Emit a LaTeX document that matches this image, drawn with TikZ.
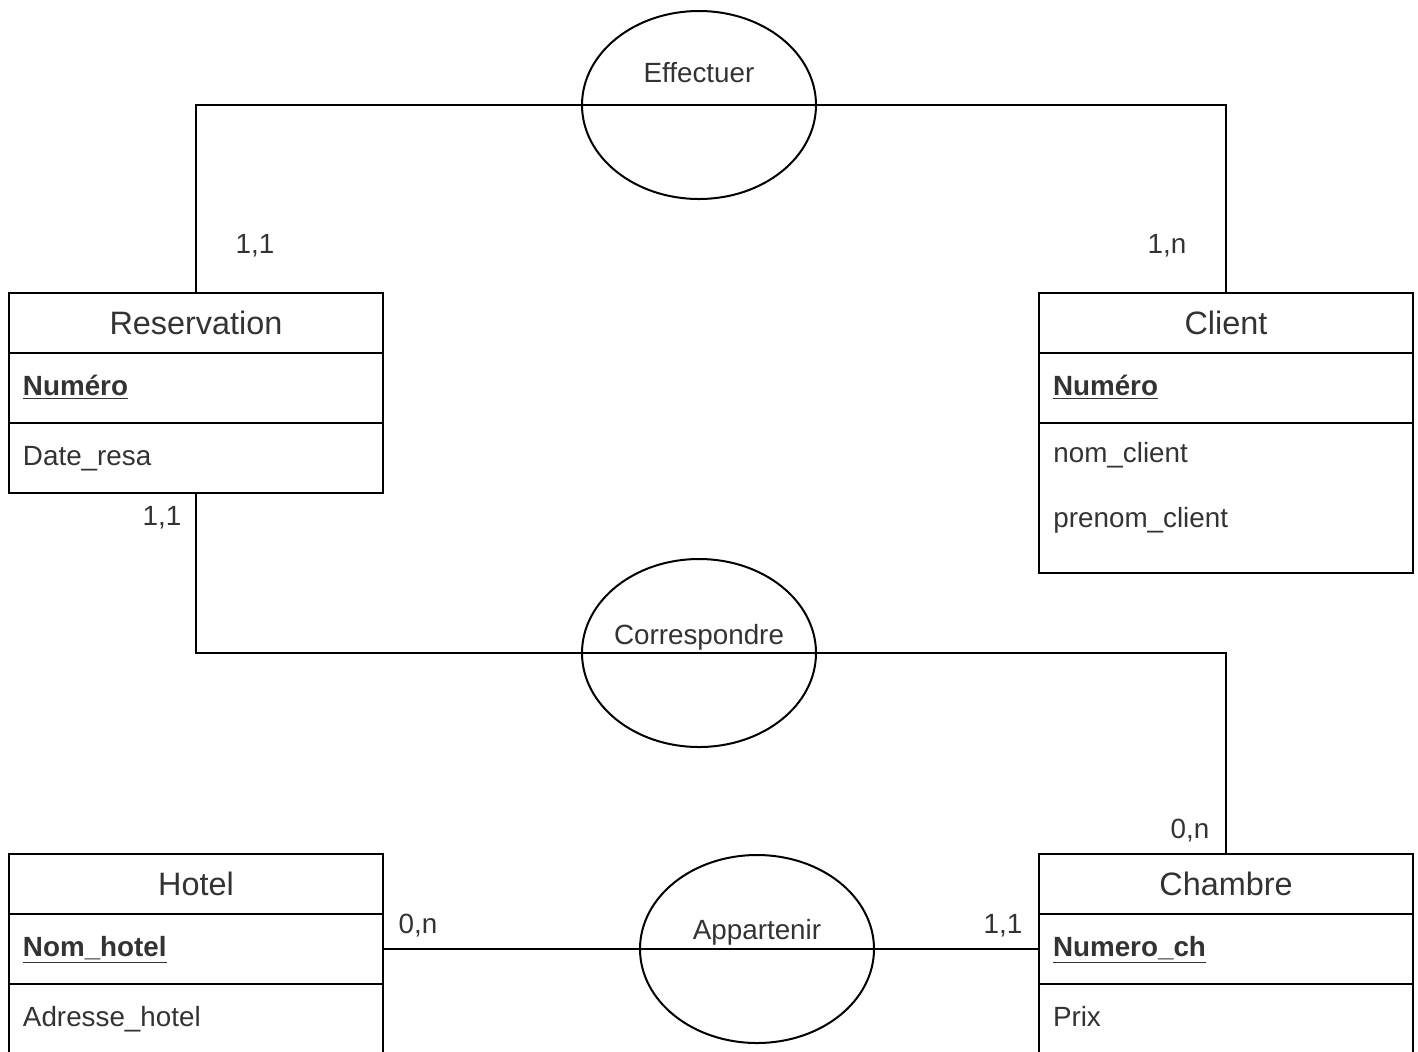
\documentclass[tikz,border=0pt]{standalone}
\usepackage{fontspec}
\setmainfont{Liberation Sans}
\usetikzlibrary{positioning,shapes.geometric}

\tikzset{
  entete/.style={draw, line width=1pt, minimum width=187pt, minimum height=30pt,
    inner sep=0pt, outer sep=0pt, font=\fontsize{16.2}{19}\selectfont, text=black!80},
  ligne/.style={draw, line width=1pt, minimum height=35pt, inner xsep=7pt,
    inner ysep=0pt, outer sep=0pt, text width=173pt, align=left,
    text height=10pt, text depth=3pt,
    font=\fontsize{13.9}{16}\selectfont, text=black!80},
  relation/.style={draw, ellipse, line width=1pt, minimum width=117pt,
    minimum height=94pt, inner sep=0pt},
  card/.style={font=\fontsize{13.9}{16}\selectfont, text=black!80, inner sep=0pt},
  lien/.style={line width=1pt},
}

\begin{document}
\begin{tikzpicture}[x=0.5pt,y=-0.5pt]
        \useasboundingbox (0,0) rectangle (1418,1051);
        \clip (0,0) rectangle (1418,1051);

        % Paso 1: Entidad Reservation
        \node[entete] (resa) at (196,323) {Reservation};
        \node[ligne, below=0pt of resa] (resa-num) {\underline{\textbf{Numéro}}};
        \node[ligne, below=0pt of resa-num] (resa-date) {Date\_resa};

        % Paso 2: Entidad Client
        \node[entete] (client) at (1226,323) {Client};
        \node[ligne, below=0pt of client] (client-num) {\underline{\textbf{Numéro}}};
        \node[ligne, below=0pt of client-num, minimum height=75pt] (client-attr) {};
        \node[card, anchor=west] (client-nom) at ([xshift=7pt,yshift=-16pt]client-attr.north west) {nom\_client};
        \node[card, anchor=west] (client-prenom) at ([xshift=7pt,yshift=-48.5pt]client-attr.north west) {prenom\_client};

        % Paso 3: Entidades Hotel y Chambre
        \node[entete] (hotel) at (196,884) {Hotel};
        \node[ligne, below=0pt of hotel] (hotel-num) {\underline{\textbf{Nom\_hotel}}};
        \node[ligne, below=0pt of hotel-num] (hotel-adr) {Adresse\_hotel};

        \node[entete] (chambre) at (1226,884) {Chambre};
        \node[ligne, below=0pt of chambre] (chambre-num) {\underline{\textbf{Numero\_ch}}};
        \node[ligne, below=0pt of chambre-num] (chambre-prix) {Prix};

        % Paso 4: Asociaciones
        \node[relation] (effectuer) at (699,105) {};
        \node[card] (effectuer-txt) at (699,73) {Effectuer};
        \node[relation] (corresp) at (699,653) {};
        \node[card] (corresp-txt) at (699,637) {Correspondre};
        \node[relation] (appart) at (757,949) {};
        \node[card] (appart-txt) at (757,932) {Appartenir};

        % Paso 5: Conexiones
        \draw[lien] (resa.north) |- (effectuer.center) -| (client.north);
        \draw[lien] (resa-date.south) |- (corresp.center) -| (chambre.north);
        \draw[lien] (hotel-num.east) -- (appart.center) -- (chambre-num.west);

        % Paso 6: Cardinalidades
        \node[card] (card-resa-eff) at (255,246) {1,1};
        \node[card] (card-client-eff) at (1167,246) {1,n};
        \node[card] (card-resa-cor) at (162,518) {1,1};
        \node[card] (card-chambre-cor) at (1190,831) {0,n};
        \node[card] (card-hotel-app) at (418,926) {0,n};
        \node[card] (card-chambre-app) at (1003,926) {1,1};
    \end{tikzpicture}
\end{document}
